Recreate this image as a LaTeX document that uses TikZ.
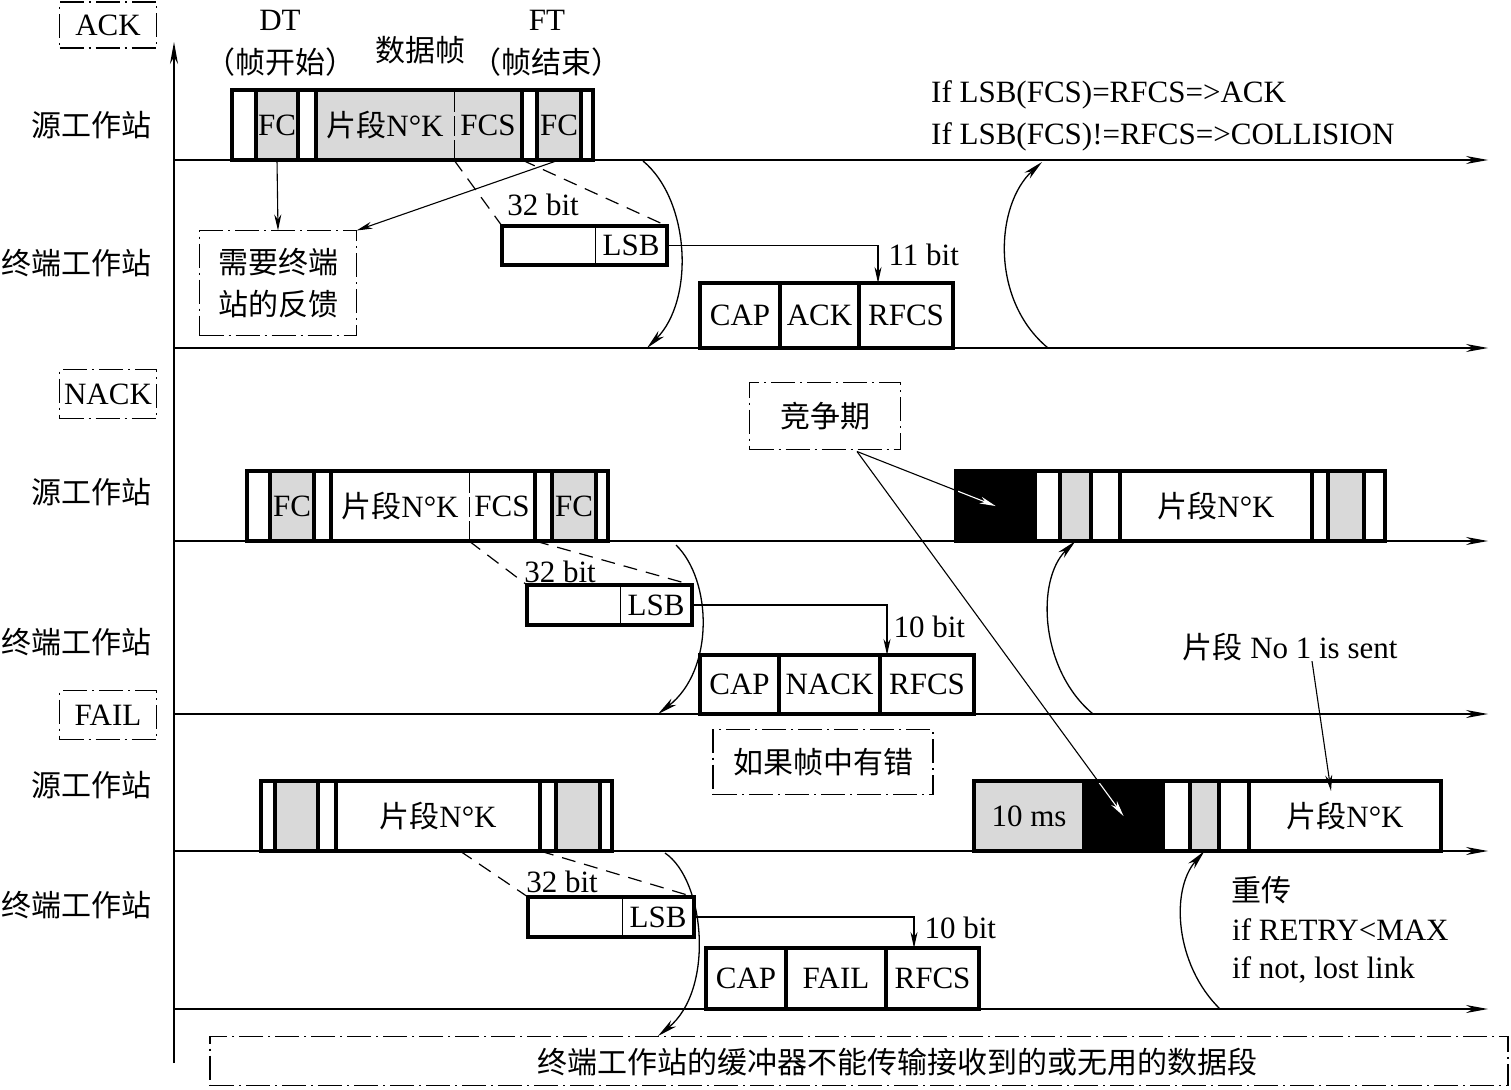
\documentclass[tikz,border=0pt]{standalone}
\usepackage{fontspec}
\setmainfont{Liberation Serif}
\newfontfamily\cjk{Noto Sans CJK SC}
\newcommand{\zhs}[1]{{\cjk\fontsize{30}{36}\selectfont #1}}
\usetikzlibrary{arrows.meta, positioning, calc}
\definecolor{framegray}{gray}{0.85}

\begin{document}
\begin{tikzpicture}[
    x=1pt, y=-1pt,
    font=\fontsize{31}{36}\selectfont,
    seg/.style={rectangle, draw, line width=3.2pt, inner sep=0pt, outer sep=0pt, anchor=south west, minimum height=70pt},
    ubox/.style={rectangle, draw, line width=3.2pt, inner sep=0pt, outer sep=0pt, anchor=south west},
    note/.style={rectangle, draw, line width=1.2pt, dash pattern=on 24pt off 5pt on 2pt off 5pt, inner sep=0pt, outer sep=0pt},
    lbl/.style={inner sep=0pt},
    timeline/.style={line width=1.3pt, -{Stealth[length=22pt, width=8pt, inset=7pt]}},
    arr/.style={line width=1.1pt, -{Stealth[length=16pt, width=7pt, inset=5pt]}},
    curvearr/.style={line width=1.3pt, -{Stealth[length=20pt, width=8pt, inset=6pt]}},
    dashln/.style={line width=1.2pt, dash pattern=on 14pt off 9pt},
    divider/.style={line width=1pt, dash pattern=on 20pt off 4pt}
]
\useasboundingbox (0,0) rectangle (1511,1089);

% --- TIME AXES ---
\foreach \n/\yy in {sA/160, dA/348, sN/541, dN/714, sF/851, dF/1009} {
    \coordinate (\n-l) at (174,\yy);
    \coordinate (\n-r) at (1488,\yy);
    \draw[timeline] (\n-l) -- (\n-r);
}
\coordinate (axb) at (174,1063);
\coordinate (axt) at (174,42);
\draw[timeline] (axb) -- (axt);

% --- LEFT LABELS ---
\node[note, minimum width=97pt, minimum height=46pt] (ackb) at (108,25) {ACK};
\node[note, minimum width=97pt, minimum height=49pt] (nackb) at (108,394) {NACK};
\node[note, minimum width=97pt, minimum height=49pt] (failb) at (108,715) {FAIL};
\node[lbl, anchor=east] (srcA) at (152,125) {\zhs{源工作站}};
\node[lbl, anchor=east] (dstA) at (152,263) {\zhs{终端工作站}};
\node[lbl, anchor=east] (srcN) at (152,492) {\zhs{源工作站}};
\node[lbl, anchor=east] (dstN) at (152,642) {\zhs{终端工作站}};
\node[lbl, anchor=east] (srcF) at (152,785) {\zhs{源工作站}};
\node[lbl, anchor=east] (dstF) at (152,905) {\zhs{终端工作站}};

% --- TOP LABELS ---
\node[lbl] (dt) at (280,20) {DT};
\node[lbl] (dtc) at (280,62) {\zhs{（帧开始）}};
\node[lbl] (dfr) at (420,50) {\zhs{数据帧}};
\node[lbl] (ft) at (547,20) {FT};
\node[lbl] (ftc) at (546,62) {\zhs{（帧结束）}};

% --- ACK: FRAMES ---
\foreach \xa/\xb/\fc/\txt [count=\i] in {232/256/white/{}, 256/298/framegray/FC, 298/316/white/{}, 316/522/framegray/{}, 522/537/white/{}, 537/581/framegray/FC, 581/593/white/{}}
    \node[seg, fill=\fc, minimum width={(\xb-\xa)*1pt}] (fa\i) at (\xa,160) {\txt};
\node[lbl] (faseg) at ($(fa4.west)+(69,0)$) {\zhs{片段}N°K};
\node[lbl] (fafcs) at ($(fa4.east)+(-34,0)$) {FCS};
\coordinate (fadiv) at ($(fa4.south west)+(138,0)$);
\draw[divider] (fadiv) -- ($(fa4.north west)+(138,0)$);

\node[note, minimum width=157pt, minimum height=105pt, align=center, font=\fontsize{30}{42}\selectfont\cjk] (fb) at (278,283) {需要终端\\站的反馈};

\node[ubox, minimum width=165pt, minimum height=39pt] (lsbA) at (502,265) {};
\draw[line width=1pt] ($(lsbA.north west)+(93,0)$) -- ($(lsbA.south west)+(93,0)$);
\node[lbl] (lsbAt) at ($(lsbA.east)+(-36,0)$) {LSB};
\node[lbl] (bitsA) at (543,205) {32 bit};

\foreach \xa/\xb/\txt [count=\i] in {700/780/CAP, 780/859/ACK, 859/953/RFCS}
    \node[ubox, minimum width={(\xb-\xa)*1pt}, minimum height=65pt] (capA\i) at (\xa,348) {\txt};

\node[lbl, anchor=west] (cond1) at (931,95) {If LSB(FCS)=RFCS=>ACK};
\node[lbl, anchor=west] (cond2) at (931,137) {If LSB(FCS)!=RFCS=>COLLISION};

% --- NACK: FRAMES ---
\foreach \xa/\xb/\fc/\txt [count=\i] in {247/270/white/{}, 270/314/framegray/FC, 314/331/white/{}, 331/535/white/{}, 535/552/white/{}, 552/596/framegray/FC, 596/608/white/{}}
    \node[seg, fill=\fc, minimum width={(\xb-\xa)*1pt}] (fn\i) at (\xa,541) {\txt};
\node[lbl] (fnseg) at ($(fn4.west)+(69,0)$) {\zhs{片段}N°K};
\node[lbl] (fnfcs) at ($(fn4.east)+(-33,0)$) {FCS};
\coordinate (fndiv) at ($(fn4.south west)+(138,0)$);
\draw[divider] (fndiv) -- ($(fn4.north west)+(138,0)$);

\node[ubox, minimum width=165pt, minimum height=40pt] (lsbN) at (527,625) {};
\draw[line width=1pt] ($(lsbN.north west)+(93,0)$) -- ($(lsbN.south west)+(93,0)$);
\node[lbl] (lsbNt) at ($(lsbN.east)+(-36,0)$) {LSB};
\node[lbl] (bitsN) at (560,572) {32 bit};

\foreach \xa/\xb/\txt [count=\i] in {700/779/CAP, 779/880/NACK, 880/974/RFCS}
    \node[ubox, minimum width={(\xb-\xa)*1pt}, minimum height=59pt] (capN\i) at (\xa,714) {\txt};

\node[note, minimum width=151pt, minimum height=67pt] (czq) at (825,416) {\zhs{竞争期}};

\foreach \xa/\xb/\fc/\txt [count=\i] in {956/1035/black/{}, 1035/1060/white/{}, 1060/1091/framegray/{}, 1091/1120/white/{}, 1120/1312/white/{\zhs{片段}N°K}, 1312/1328/white/{}, 1328/1364/framegray/{}, 1364/1385/white/{}}
    \node[seg, fill=\fc, minimum width={(\xb-\xa)*1pt}] (nr\i) at (\xa,541) {\txt};

\node[lbl] (sent) at (1290,647) {\zhs{片段} No 1 is sent};

% --- FAIL: FRAMES ---
\foreach \xa/\xb/\fc/\txt [count=\i] in {261/275/white/{}, 275/318/framegray/{}, 318/336/white/{}, 336/540/white/{\zhs{片段}N°K}, 540/556/white/{}, 556/600/framegray/{}, 600/612/white/{}}
    \node[seg, fill=\fc, minimum width={(\xb-\xa)*1pt}] (ff\i) at (\xa,851) {\txt};
\coordinate (ffcut) at ($(ff4.south west)+(124,0)$);

\node[ubox, minimum width=166pt, minimum height=40pt] (lsbF) at (528,937) {};
\draw[line width=1pt] ($(lsbF.north west)+(94,0)$) -- ($(lsbF.south west)+(94,0)$);
\node[lbl] (lsbFt) at ($(lsbF.east)+(-36,0)$) {LSB};
\node[lbl] (bitsF) at (562,882) {32 bit};

\foreach \xa/\xb/\txt [count=\i] in {706/786/CAP, 786/886/FAIL, 886/979/RFCS}
    \node[ubox, minimum width={(\xb-\xa)*1pt}, minimum height=61pt] (capF\i) at (\xa,1009) {\txt};

\node[note, minimum width=220pt, minimum height=65pt] (ferr) at (823,762) {\zhs{如果帧中有错}};

\foreach \xa/\xb/\fc/\txt [count=\i] in {974/1084/framegray/{10 ms}, 1084/1163/black/{}, 1163/1190/white/{}, 1190/1219/framegray/{}, 1219/1249/white/{}, 1249/1441/white/{\zhs{片段}N°K}}
    \node[seg, fill=\fc, minimum width={(\xb-\xa)*1pt}] (fr\i) at (\xa,851) {\txt};

\node[lbl, anchor=west] (rt1) at (1231,890) {\zhs{重传}};
\node[lbl, anchor=west] (rt2) at (1232,930) {if RETRY<MAX};
\node[lbl, anchor=west] (rt3) at (1232,970) {if not, lost link};

\node[note, minimum width=1298pt, minimum height=49pt] (buff) at (859,1061) {};
\node[lbl] (bufftxt) at (897,1062) {\zhs{终端工作站的缓冲器不能传输接收到的或无用的数据段}};

% --- CONNECTIONS ---

% 1. ACK
\draw[arr] (fa2.south) -- (fb.north);
\draw[arr] (fa6.south) -- (fb.north east);
\draw[dashln] (fadiv) -- (lsbA.north west);
\draw[dashln] (fa5.south west) -- (lsbA.north east);
\draw[arr] (lsbA.east) -| ($(capA3.north west)+(19,0)$) node[lbl, pos=0.62, right=10pt] {11 bit};
\coordinate (cA1) at (643,161);
\coordinate (cA2) at (647,348);
\draw[curvearr] (cA1) .. controls +(47,39) and +(48,-48) .. (cA2);
\coordinate (cA3) at (1048,348);
\coordinate (cA4) at (1042,162);
\draw[curvearr] (cA3) .. controls +(-58,-48) and +(-47,43) .. (cA4);

% 2. NACK
\draw[dashln] (fndiv) -- (lsbN.north west);
\draw[dashln] (fn5.south west) -- (lsbN.north east);
\draw[arr] (lsbN.east) -| ($(capN3.north west)+(7,0)$) node[lbl, pos=0.72, right=6pt] {10 bit};
\coordinate (cN1) at (676,545);
\coordinate (cN2) at (658,714);
\draw[curvearr] (cN1) .. controls +(36,35) and +(57,-44) .. (cN2);
\coordinate (cN3) at (1093,714);
\draw[curvearr] (cN3) .. controls +(-53,-44) and +(-40,39) .. (nr3.south);

% 3. contention period
\coordinate (czo) at ($(czq.south)+(32,2)$);
\draw[arr] (czo) -- (nr1.center);
\draw[arr] (czo) -- (fr2.center);
\begin{scope}
    \clip ($(nr1.south west)+(2,-2)$) rectangle ($(nr1.north east)+(-2,2)$);
    \draw[arr, white] (czo) -- (nr1.center);
\end{scope}
\begin{scope}
    \clip ($(fr2.south west)+(2,-2)$) rectangle ($(fr2.north east)+(-2,2)$);
    \draw[arr, white] (czo) -- (fr2.center);
\end{scope}
\draw[arr] ($(sent.south)+(22,0)$) -- ($(fr6.north)+(-14,10)$);

% 4. FAIL
\draw[dashln] (ffcut) -- (lsbF.north west);
\draw[dashln] (ff5.south west) -- (lsbF.north east);
\draw[arr] (lsbF.east) -| ($(capF3.north west)+(28,0)$) node[lbl, pos=0.68, right=10pt] {10 bit};
\coordinate (cF1) at (665,853);
\coordinate (cF2) at (658,1036);
\draw[curvearr] (cF1) .. controls +(40,27) and +(57,-46) .. (cF2);
\coordinate (cF3) at (1220,1009);
\draw[curvearr] (cF3) .. controls +(-45,-44) and +(-34.5,39) .. (fr4.south);

\end{tikzpicture}
\end{document}
